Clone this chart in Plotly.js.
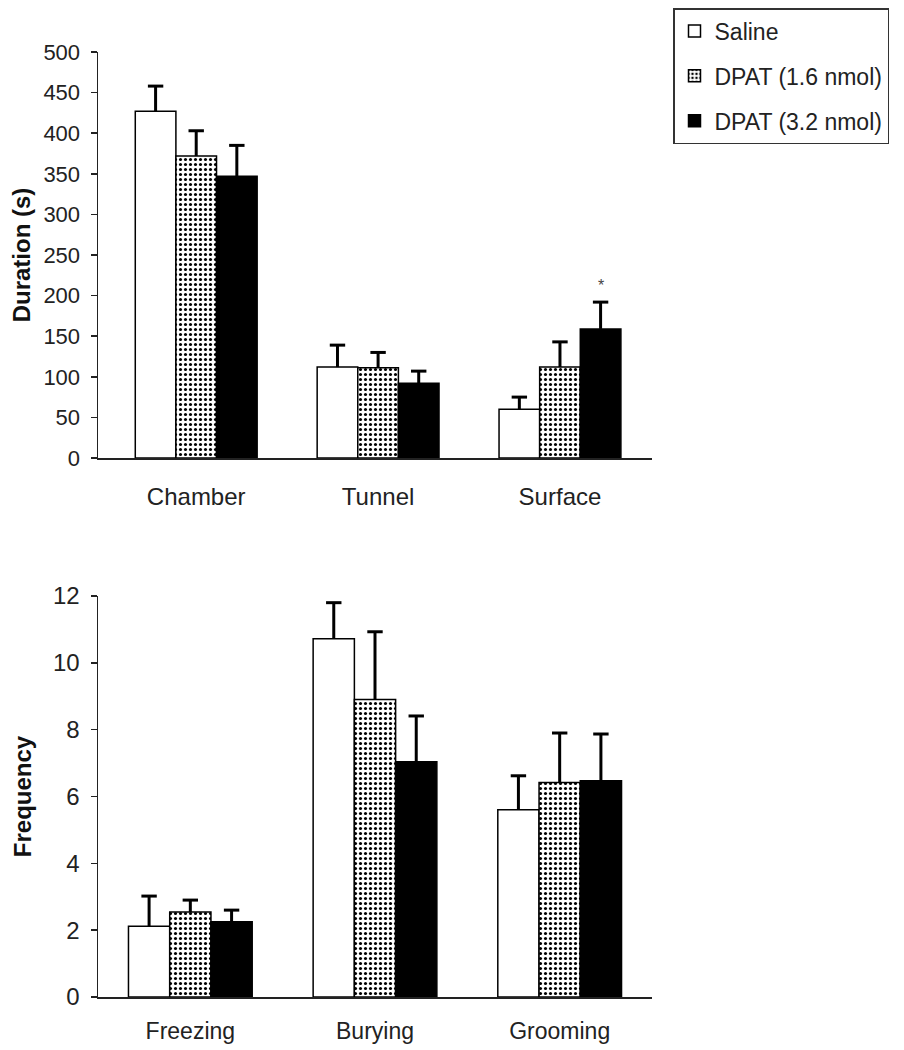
<!DOCTYPE html>
<html>
<head>
<meta charset="utf-8">
<script src="https://cdn.plot.ly/plotly-3.0.1.min.js"></script>
<style>html,body{margin:0;padding:0;background:#fff;}#chart{width:904px;height:1050px;}</style>
</head>
<body>
<div id="chart"></div>
<script>
// ---- data ----
const seriesNames = ["Saline", "DPAT (1.6 nmol)", "DPAT (3.2 nmol)"];

const durationCategories = ["Chamber", "Tunnel", "Surface"];
const durationSaline = [427, 112, 60];
const durationSalineErr = [31, 27, 15];
const durationDpatLow = [372, 111, 112];
const durationDpatLowErr = [31, 19, 31];
const durationDpatHigh = [347, 92, 159];
const durationDpatHighErr = [38, 15, 33];

const frequencyCategories = ["Freezing", "Burying", "Grooming"];
const frequencySaline = [2.12, 10.72, 5.6];
const frequencySalineErr = [0.9, 1.08, 1.02];
const frequencyDpatLow = [2.54, 8.9, 6.42];
const frequencyDpatLowErr = [0.36, 2.03, 1.48];
const frequencyDpatHigh = [2.25, 7.04, 6.47];
const frequencyDpatHighErr = [0.35, 1.37, 1.4];

const durationTicks = [0, 50, 100, 150, 200, 250, 300, 350, 400, 450, 500];
const frequencyTicks = [0, 2, 4, 6, 8, 10, 12];

// ---- styles ----
const FONT = "Liberation Sans, Arial, sans-serif";
const styles = [
  {color: "#ffffff", pattern: {shape: ""}},
  {color: "#ffffff", pattern: {shape: ".", fgcolor: "#000000", bgcolor: "#ffffff", size: 5, solidity: 0.3, fillmode: "replace"}},
  {color: "#000000", pattern: {shape: ""}}
];
const groups = ["g0", "g1", "g2"];
const BARGAP = 0.33;

function barTrace(name, cats, vals, errs, i, xa, ya, showlegend) {
  return {
    type: "bar", name: name, x: cats, y: vals,
    xaxis: xa, yaxis: ya, showlegend: showlegend, legendgroup: groups[i],
    marker: {color: styles[i].color, pattern: styles[i].pattern, line: {color: "#000000", width: 1.5}},
    error_y: {type: "data", symmetric: false, array: errs, arrayminus: errs.map(() => 0),
              color: "#000000", thickness: 3, width: 0},
    hoverinfo: "skip"
  };
}
// caps on top of the error bars only (upper cap)
function capTrace(cats, vals, errs, i, xa, ya) {
  return {
    type: "scatter", mode: "markers", x: cats, y: vals.map((v, k) => v + errs[k]),
    xaxis: xa, yaxis: ya, showlegend: false, legendgroup: groups[i],
    marker: {symbol: "line-ew-open", size: 11, color: "#000000", line: {color: "#000000", width: 3}},
    cliponaxis: false, hoverinfo: "skip"
  };
}

const data = [
  barTrace(seriesNames[0], durationCategories, durationSaline, durationSalineErr, 0, "x", "y", true),
  barTrace(seriesNames[1], durationCategories, durationDpatLow, durationDpatLowErr, 1, "x", "y", true),
  barTrace(seriesNames[2], durationCategories, durationDpatHigh, durationDpatHighErr, 2, "x", "y", true),
  barTrace(seriesNames[0], frequencyCategories, frequencySaline, frequencySalineErr, 0, "x2", "y2", false),
  barTrace(seriesNames[1], frequencyCategories, frequencyDpatLow, frequencyDpatLowErr, 1, "x2", "y2", false),
  barTrace(seriesNames[2], frequencyCategories, frequencyDpatHigh, frequencyDpatHighErr, 2, "x2", "y2", false),
  capTrace(durationCategories, durationSaline, durationSalineErr, 0, "x", "y"),
  capTrace(durationCategories, durationDpatLow, durationDpatLowErr, 1, "x", "y"),
  capTrace(durationCategories, durationDpatHigh, durationDpatHighErr, 2, "x", "y"),
  capTrace(frequencyCategories, frequencySaline, frequencySalineErr, 0, "x2", "y2"),
  capTrace(frequencyCategories, frequencyDpatLow, frequencyDpatLowErr, 1, "x2", "y2"),
  capTrace(frequencyCategories, frequencyDpatHigh, frequencyDpatHighErr, 2, "x2", "y2")
];

const W = 904, H = 1050;
const xDom = [98 / W, 652 / W];
const yDomTop = [1 - 458 / H, 1 - 52 / H];
const yDomBot = [1 - 997 / H, 1 - 596 / H];

function xAxis(anchor, tlen, fsize, range) {
  return {
    domain: xDom, anchor: anchor, type: "category", range: range,
    showline: true, linecolor: "#222", linewidth: 1.5,
    ticks: "outside", ticklen: tlen, tickcolor: "rgba(0,0,0,0)",
    tickfont: {family: FONT, size: fsize, color: "#222"},
    showgrid: false, zeroline: false, fixedrange: true
  };
}
function yAxis(anchor, dom, range, ticks, title, tsize, standoff, titleSize) {
  return {
    domain: dom, anchor: anchor, range: range, tickvals: ticks,
    showline: true, linecolor: "#222", linewidth: 1.5,
    ticks: "outside", ticklen: 6, tickwidth: 1.5, tickcolor: "#222",
    ticklabelstandoff: 6,
    tickfont: {family: FONT, size: tsize, color: "#222"},
    showgrid: false, zeroline: false, fixedrange: true,
    title: {text: "<b>" + title + "</b>", font: {family: FONT, size: titleSize, color: "#111"}, standoff: standoff}
  };
}

const layout = {
  width: W, height: H,
  margin: {l: 0, r: 0, t: 0, b: 0},
  paper_bgcolor: "#ffffff", plot_bgcolor: "#ffffff",
  barmode: "group", bargap: BARGAP, bargroupgap: 0,
  scattermode: "group", scattergap: BARGAP,
  font: {family: FONT, color: "#222"},
  xaxis: xAxis("y", 17, 24, [-0.54, 2.506]),
  yaxis: yAxis("x", yDomTop, [0, 500], durationTicks, "Duration (s)", 22, 6, 24),
  xaxis2: xAxis("y2", 13, 23, [-0.5, 2.5]),
  yaxis2: yAxis("x2", yDomBot, [0, 12], frequencyTicks, "Frequency", 24, 14, 24),
  legend: {
    x: 673 / W, xanchor: "left", y: 1 - 8 / H, yanchor: "top",
    bordercolor: "#333", borderwidth: 1.5, bgcolor: "#ffffff",
    font: {family: FONT, size: 23, color: "#222"},
    traceorder: "grouped", tracegroupgap: 12, itemwidth: 30
  },
  annotations: [{
    xref: "x", yref: "y", x: durationCategories[2], y: durationDpatHigh[2] + durationDpatHighErr[2],
    xshift: 41, yshift: 6, yanchor: "bottom", showarrow: false,
    text: "*", font: {family: FONT, size: 16, color: "#444"}
  }]
};

Plotly.newPlot("chart", data, layout, {staticPlot: true, displayModeBar: false});
</script>
</body>
</html>
